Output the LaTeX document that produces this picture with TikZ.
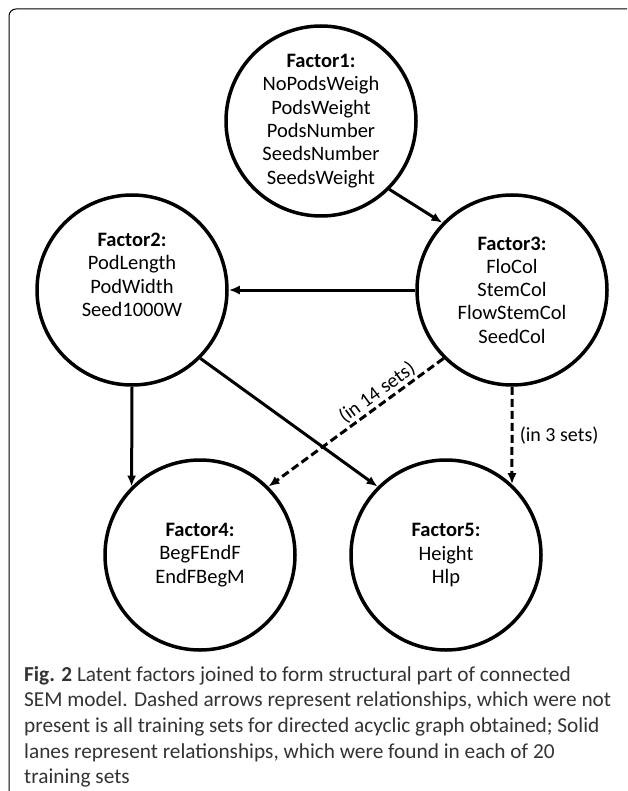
\documentclass[tikz,border=0pt]{standalone}
\usepackage{fontspec}
\setmainfont{Carlito}
\usetikzlibrary{arrows.meta}
\begin{document}
\begin{tikzpicture}[x=1pt,y=-1pt,
  >={Latex[length=11pt,width=9pt]},
  factor/.style={circle,draw,line width=3.5pt,minimum size=190pt,inner sep=0pt,align=center,
    font=\fontsize{20.5}{23.3}\selectfont},
  link/.style={->,line width=3pt},
  partial/.style={link,dash pattern=on 8pt off 4pt},
  setcount/.style={font=\fontsize{20}{23}\selectfont}]
\useasboundingbox (0,0) rectangle (627,791);
\clip (0,0) rectangle (627,791);
\draw[line width=1pt,rounded corners=7pt] (9,9) rectangle (680,830);

\node[factor] (f1) at (321,121) {\textbf{Factor1:}\\NoPodsWeigh\\PodsWeight\\PodsNumber\\SeedsNumber\\SeedsWeight};
\node[factor] (f2) at (132,290) {\textbf{Factor2:}\\PodLength\\PodWidth\\Seed1000W\\\strut};
\node[factor] (f3) at (512,290) {\textbf{Factor3:}\\FloCol\\StemCol\\FlowStemCol\\SeedCol};
\node[factor] (f4) at (200,555) {\textbf{Factor4:}\\BegFEndF\\EndFBegM};
\node[factor] (f5) at (446,555) {\textbf{Factor5:}\\Height\\Hlp};

\draw[link] (f1.-45) -- (f3.136);
\draw[link] (f3) -- (f2);
\draw[link] (f2.south) -- (f4.135);
\draw[link] (f2.-45) -- (f5.135);
\draw[partial] (f3.-135) -- node[setcount,pos=0.34,sloped,above,inner sep=1.5pt] {(in 14 sets)} (f4.45);
\draw[partial] (f3.south) -- node[setcount,midway,right=3pt] {(in 3 sets)} (f5.47);

\node[anchor=north west,align=left,text=black!80,inner sep=0pt,
  font=\fontsize{21.3}{25.7}\selectfont] (caption) at (24,666)
  {\textbf{Fig. 2} Latent factors joined to form structural part of connected\\
   SEM model. Dashed arrows represent relationships, which were not\\
   present is all training sets for directed acyclic graph obtained; Solid\\
   lanes represent relationships, which were found in each of 20\\
   training sets};
\end{tikzpicture}
\end{document}
